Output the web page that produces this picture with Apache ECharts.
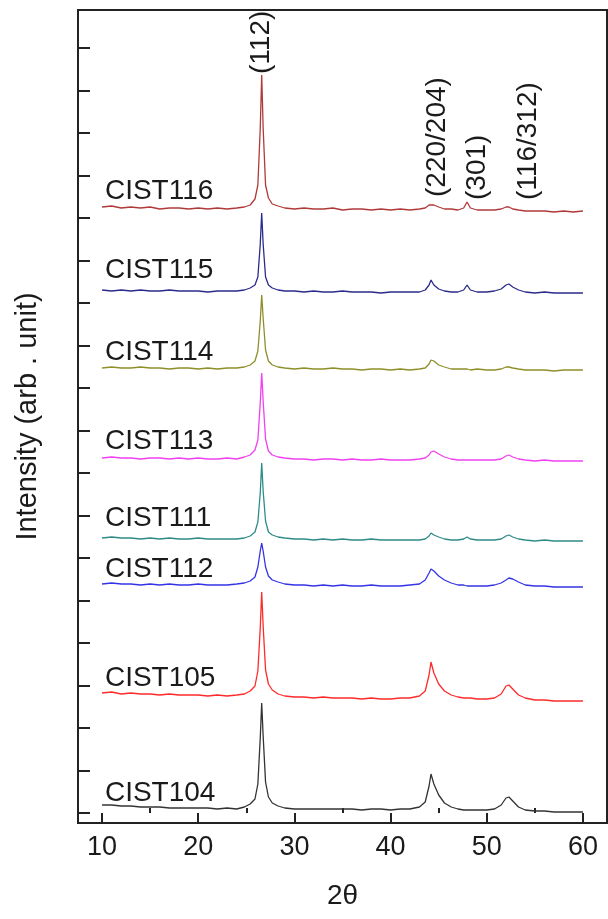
<!DOCTYPE html>
<html><head><meta charset="utf-8">
<script src="https://cdn.jsdelivr.net/npm/echarts@6/dist/echarts.min.js"></script>
<style>html,body{margin:0;padding:0;background:#fff}#c{width:608px;height:919px}</style>
</head><body><div id="c"></div><script>
// 2θ sampling positions (degrees)
const twoTheta = [10,11,12,13,14,15,16,17,18,19,20,21,22,23,24,24.8,25.4,25.9,26.2,26.45,26.6,26.75,27.0,27.3,27.7,28.3,29,
  30,31,32,33,34,35,36,37,38,39,40,41,42,43,43.6,44.0,44.2,44.5,45.0,45.6,46.3,47.0,47.6,47.95,48.3,49,
  50,50.8,51.5,52.0,52.3,52.7,53.3,54,55,56,57,58,59,60];

// stacked intensities (arb. unit, offset patterns)
const cist116 = [606,607,605,606,605,606,604,605,605,604,605,604,605,604,605,606,608,614,628,685,738,685,628,615,609,607,605,
  604,605,604,604,605,603,604,604,603,604,603,604,603,604,605,608,610,608,606,604,604,603,605,611,605,603,
  603,603,604,606,606,604,603,602,602,602,601,602,601,602];
const cist115 = [523,522,523,522,523,522,522,523,522,522,522,521,522,522,522,523,525,528,536,569,600,569,536,528,525,523,522,
  522,521,522,521,521,522,521,521,521,520,521,521,521,521,523,528,533,528,524,522,521,521,523,528,523,521,
  521,522,524,528,529,526,523,521,520,521,520,520,520,520];
const cist114 = [445,446,445,445,446,445,445,444,445,445,444,445,444,445,445,446,448,452,462,492,518,495,463,452,448,446,445,
  444,445,444,444,445,444,444,443,444,444,443,444,443,444,445,449,453,452,448,446,444,444,444,444,443,444,
  443,443,444,446,446,445,444,443,443,443,442,443,443,443];
const cist113 = [355,356,355,355,354,355,355,354,355,354,355,354,354,355,354,356,358,363,373,410,440,412,374,362,358,356,355,
  354,354,353,354,354,353,354,353,353,354,353,353,353,354,355,358,361,362,359,356,354,353,353,353,353,353,
  353,353,354,357,358,356,354,353,352,353,352,352,352,352];
const cist111 = [275,276,275,275,274,275,274,275,274,274,275,274,274,274,274,275,277,281,291,320,350,322,292,281,278,276,275,
  274,274,273,274,273,274,273,273,274,273,273,273,273,273,274,277,280,278,276,274,273,273,274,276,274,273,
  273,273,274,277,278,276,274,273,272,273,272,272,272,272];
const cist112 = [229,230,229,229,228,229,228,229,228,228,229,228,228,228,229,230,232,236,246,262,270,262,246,237,233,231,229,
  228,228,227,228,227,228,227,227,228,227,227,227,228,229,233,240,244,242,237,233,230,228,228,227,227,227,
  227,228,230,233,235,234,231,228,227,227,226,226,226,226];
const cist105 = [120,121,119,120,119,119,118,119,118,118,118,117,118,117,118,119,122,127,142,185,221,187,143,129,123,119,117,
  116,116,115,116,115,115,115,114,115,114,114,115,115,117,122,138,151,140,129,122,118,116,115,115,115,114,
  114,115,119,127,128,124,118,115,113,113,112,112,112,112];
const cist104 = [8,8,7,7,6,6,6,5,5,5,5,5,4,5,4,6,9,14,29,75,110,77,31,16,10,7,5,
  4,4,4,4,4,4,4,3,4,4,3,4,4,6,11,27,39,29,18,10,6,4,3,3,3,3,
  3,4,8,15,16,12,6,3,2,2,1,1,1,1];

const sampleNames = ['CIST116','CIST115','CIST114','CIST113','CIST111','CIST112','CIST105','CIST104'];
const sampleData = [cist116,cist115,cist114,cist113,cist111,cist112,cist105,cist104];
const sampleColors = ['#b03a3a','#2b2b8c','#8f8f2a','#f040f0','#2e8c88','#3434e6','#ff2a2a','#333333'];

// axis ticks
const xTickValues = [10,20,30,40,50,60];
const xMinorTickValues = [15,25,35,45,55];
const yTickValues = [0,42.5,85,127.5,170,212.5,255,297.5,340,382.5,425,467.5,510,552.5,595,637.5,680,722.5,765];

// annotations
const sampleLabelPos = [[10.3,622],[10.3,543],[10.3,461],[10.3,372],[10.3,295],[10.3,244],[10.3,135],[10.3,20]];
const peakLabels = ['(112)','(220/204)','(301)','(116/312)'];
const peakLabelPos = [[26.55,739],[44.9,616],[49.0,613],[54.3,613]];

const FONT = '"Liberation Sans", Arial, sans-serif';
const TXT = '#1a1a1a';
const chart = echarts.init(document.getElementById('c'), null, {renderer:'canvas'});

const series = sampleNames.map((n,i)=>({
  name:n, type:'line', xAxisIndex:0, yAxisIndex:0,
  data: twoTheta.map((x,j)=>[x, sampleData[i][j]]),
  showSymbol:false, symbol:'none', smooth:false,
  lineStyle:{color:sampleColors[i], width:1.3},
  animation:false
}));

chart.setOption({
  animation:false,
  backgroundColor:'#fff',
  grid:{left:78, right:1, top:10, bottom:96, show:true, borderColor:'#222', borderWidth:2, backgroundColor:'transparent'},
  xAxis:[{
    type:'value', min:7.5, max:62.5, position:'bottom',
    axisLine:{show:true, onZero:false, lineStyle:{color:'#222', width:2}},
    axisTick:{show:true, inside:true, length:10, customValues:xTickValues, lineStyle:{color:'#222', width:2}},
    axisLabel:{show:true, customValues:xTickValues, fontSize:27, fontFamily:FONT, color:TXT, margin:11},
    splitLine:{show:false},
    name:'2θ', nameLocation:'middle', nameGap:59,
    nameTextStyle:{fontSize:28, fontFamily:FONT, color:TXT}
  },{
    type:'value', min:7.5, max:62.5, position:'bottom',
    axisLine:{show:false},
    axisTick:{show:true, inside:true, length:5, customValues:xMinorTickValues, lineStyle:{color:'#222', width:2}},
    axisLabel:{show:false}, splitLine:{show:false}
  }],
  yAxis:{
    type:'value', min:-10, max:803,
    axisLine:{show:true, onZero:false, lineStyle:{color:'#222', width:2}},
    axisTick:{show:true, inside:true, length:12, customValues:yTickValues, lineStyle:{color:'#222', width:2}},
    axisLabel:{show:false}, splitLine:{show:false},
    name:'Intensity (arb . unit)', nameLocation:'middle', nameGap:36, nameRotate:90,
    nameTextStyle:{fontSize:29, fontFamily:FONT, color:TXT}
  },
  series: series
});

const toPx = p => chart.convertToPixel({xAxisIndex:0, yAxisIndex:0}, p);
const graphics = [];
sampleNames.forEach((n,i)=>{
  const p = toPx(sampleLabelPos[i]);
  graphics.push({type:'text', x:p[0], y:p[1], silent:true,
    style:{text:n, fontSize:28, fontFamily:FONT, fill:TXT, align:'left', verticalAlign:'middle'}});
});
peakLabels.forEach((t,i)=>{
  const p = toPx(peakLabelPos[i]);
  graphics.push({type:'text', x:p[0], y:p[1], rotation:Math.PI/2, silent:true,
    style:{text:t, fontSize:28, fontFamily:FONT, fill:TXT, align:'left', verticalAlign:'middle'}});
});
chart.setOption({graphic:graphics});
</script></body></html>
